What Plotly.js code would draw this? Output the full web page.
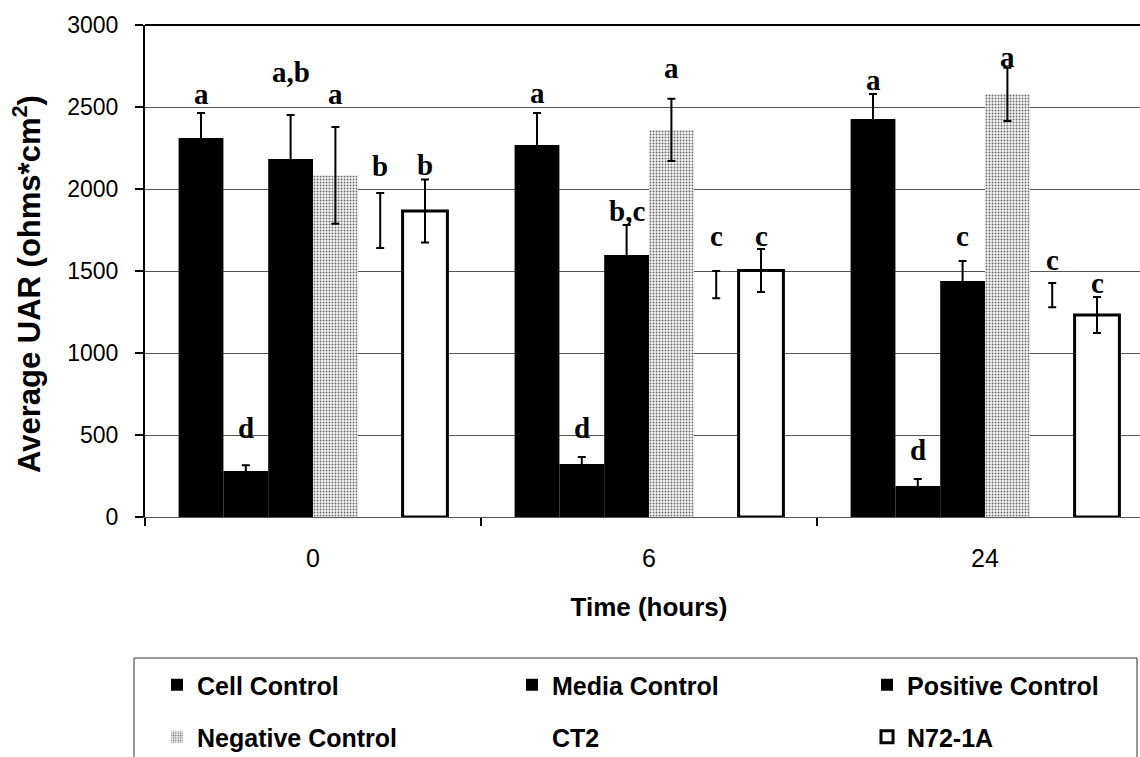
<!DOCTYPE html>
<html><head><meta charset="utf-8">
<script src="https://cdn.plot.ly/plotly-3.0.1.min.js"></script>
<style>html,body{margin:0;padding:0;overflow:hidden;background:#fff}</style>
</head><body>
<div id="chart" style="width:1250px;height:757px"></div>
<script>
// ---- data ----
const categories = ['0', '6', '24'];
const seriesNames = ['Cell Control', 'Media Control', 'Positive Control', 'Negative Control', 'CT2', 'N72-1A'];

const cellControl = [2311, 2268, 2427];
const cellControlErr = [152, 195, 152];
const mediaControl = [280, 323, 189];
const mediaControlErr = [35, 43, 43];
const positiveControl = [2183, 1598, 1439];
const positiveControlErr = [268, 182, 122];
const negativeControl = [2083, 2360, 2577];
const negativeControlErr = [295, 190, 162];
const ct2 = [1808, 1417, 1353];
const ct2Err = [168, 83, 74];
const n721a = [1866, 1503, 1232];
const n721aErr = [192, 131, 110];

// significance letters and the heights at which they are written
const cellLetters = ['a', 'a', 'a'];
const cellLetterY = [2579, 2585, 2665];
const mediaLetters = ['d', 'd', 'd'];
const mediaLetterY = [543, 543, 409];
const positiveLetters = ['a,b', 'b,c', 'c'];
const positiveLetterY = [2713, 1866, 1713];
const negativeLetters = ['a', 'a', 'a'];
const negativeLetterY = [2579, 2738, 2805];
const ct2Letters = ['b', 'c', 'c'];
const ct2LetterY = [2140, 1713, 1567];
const n721aLetters = ['b', 'c', 'c'];
const n721aLetterY = [2146, 1713, 1427];

const yTicks = [0, 500, 1000, 1500, 2000, 2500, 3000];
const xTitle = 'Time (hours)';
const yTitle = 'Average UAR (ohms*cm<sup>2</sup>)';

// ---- styling ----
const SANS = 'Arial, "Liberation Sans", sans-serif';
const SERIF = '"Times New Roman", "Liberation Serif", serif';

const values = [cellControl, mediaControl, positiveControl, negativeControl, ct2, n721a];
const errors = [cellControlErr, mediaControlErr, positiveControlErr, negativeControlErr, ct2Err, n721aErr];
const letters = [cellLetters, mediaLetters, positiveLetters, negativeLetters, ct2Letters, n721aLetters];
const letterY = [cellLetterY, mediaLetterY, positiveLetterY, negativeLetterY, ct2LetterY, n721aLetterY];

const markers = [
  {color: '#000000', line: {width: 0}},
  {color: '#000000', line: {width: 0}},
  {color: '#000000', line: {width: 0}},
  {color: '#f2f2f2', line: {width: 0},
   pattern: {shape: '.', fgcolor: '#6a6a6a', bgcolor: '#f4f4f4', size: 3, solidity: 0.3}},
  {color: 'rgba(255,255,255,0)', line: {width: 0}},
  {color: '#ffffff', line: {color: '#000000', width: 3}}
];

const traces = seriesNames.map((name, i) => ({
  type: 'bar',
  name: name,
  x: categories,
  y: values[i],
  marker: markers[i],
  error_y: {type: 'data', array: errors[i], visible: true, color: '#000000', thickness: 2, width: 4},
  legend: i < 3 ? 'legend' : 'legend2',
  hoverinfo: 'skip'
}));

const W = 1250, H = 757, ML = 145, MR = 97, MT = 25, MB = 240;
const pw = W - ML - MR, ph = H - MT - MB;
const px2x = p => (p - ML) / pw;
const px2y = p => (H - MB - p) / ph;

const nSeries = seriesNames.length;
const groupWidth = 0.8;
const barW = groupWidth / nSeries;
const annotations = [];
letters.forEach((arr, i) => {
  arr.forEach((t, c) => {
    annotations.push({
      x: c + (i - (nSeries - 1) / 2) * barW,
      y: letterY[i][c],
      xref: 'x', yref: 'y',
      text: t, showarrow: false,
      font: {family: SERIF, size: 29, color: '#000', weight: 'bold'},
      xanchor: 'center', yanchor: 'middle'
    });
  });
});
// y-axis title (drawn as a rotated annotation so it can sit exactly where the reference has it)
annotations.push({
  xref: 'paper', yref: 'paper', x: px2x(27), y: px2y(284),
  xanchor: 'center', yanchor: 'middle', textangle: -90, showarrow: false,
  text: yTitle, font: {family: SANS, size: 31, color: '#000', weight: 'bold'}
});

const legendCommon = {
  orientation: 'h', xanchor: 'left', yanchor: 'middle',
  entrywidth: 297, entrywidthmode: 'pixels', indentation: 13,
  font: {family: SANS, size: 25, color: '#000', weight: 'bold'},
  bgcolor: 'rgba(0,0,0,0)', borderwidth: 0, traceorder: 'normal'
};

const layout = {
  width: W, height: H,
  margin: {l: ML, r: MR, t: MT, b: MB, pad: 0, autoexpand: false},
  paper_bgcolor: '#ffffff', plot_bgcolor: '#ffffff',
  barmode: 'group', bargap: 0.2, bargroupgap: 0,
  font: {family: SANS, color: '#000'},
  xaxis: {
    type: 'category', range: [-0.5, 2.5],
    showline: true, linecolor: '#555', linewidth: 1,
    ticks: 'outside', tickson: 'boundaries', ticklen: 8, tickcolor: '#000', tickwidth: 1.5,
    showgrid: false, zeroline: false,
    tickfont: {family: SANS, size: 25, color: '#000'},
    ticklabelstandoff: 19,
    title: {text: xTitle, font: {family: SANS, size: 26, color: '#000', weight: 'bold'}, standoff: 26}
  },
  yaxis: {
    range: [0, 3000], tickvals: yTicks,
    showline: true, linecolor: '#000', linewidth: 2,
    ticks: 'outside', ticklen: 8, tickcolor: '#000', tickwidth: 1.5,
    showgrid: true, gridcolor: '#555', gridwidth: 1, zeroline: false,
    tickfont: {family: SANS, size: 23, color: '#000'},
    ticklabelstandoff: 12
  },
  legend: Object.assign({x: px2x(144), y: px2y(685)}, legendCommon),
  legend2: Object.assign({x: px2x(144), y: px2y(737)}, legendCommon),
  shapes: [
    {type: 'line', xref: 'paper', yref: 'paper', x0: 0, x1: px2x(1153), y0: 1, y1: 1, line: {color: '#000', width: 2}},
    {type: 'rect', xref: 'paper', yref: 'paper', x0: px2x(134), x1: px2x(1137), y0: px2y(658), y1: px2y(790),
     line: {color: '#333', width: 1}, fillcolor: 'rgba(0,0,0,0)'}
  ],
  annotations: annotations,
  showlegend: true
};

Plotly.newPlot('chart', traces, layout, {displayModeBar: false, responsive: false, staticPlot: true});
</script>
</body></html>
